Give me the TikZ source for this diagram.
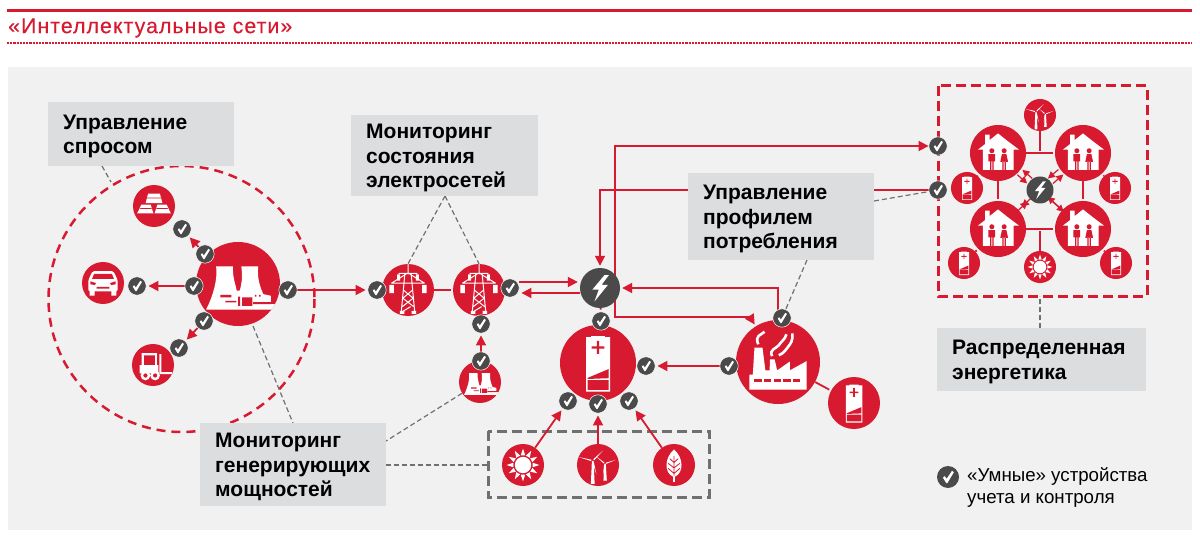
\documentclass[tikz,border=0pt]{standalone}
\usepackage{fontspec}
\setmainfont{Liberation Sans}
\newfontfamily\titlefont[LetterSpace=5,FakeBold=0.3]{Liberation Sans}
\usetikzlibrary{arrows.meta,calc}

\definecolor{hired}{HTML}{D71A30}
\definecolor{hidark}{HTML}{4A4A4A}
\definecolor{hipanel}{HTML}{F1F1F1}
\definecolor{hibox}{HTML}{DCDDDF}
\definecolor{hidash}{HTML}{707070}

\pgfdeclarelayer{under}
\pgfdeclarelayer{edges}
\pgfsetlayers{under,edges,main}

\newcommand{\icoTick}{\fill[white] (-4.6,0.6) -- (-3,-0.8) -- (-1.2,1.6) -- (3.6,-5.6) -- (5.4,-4.4) -- (-0.6,5.6) -- (-1.6,5.6) -- cycle;}
\newcommand{\icoBolt}{\fill[white] (2.2,-6.4) -- (-3.8,0.8) -- (-0.6,0.8) -- (-2.8,6.8) -- (4,-1.6) -- (0.8,-1.6) -- (4.4,-6.4) -- cycle;}
\newcommand{\icoPlant}{\fill[white] (-5.2,-4.2) -- (-1.2,-4.2) .. controls (-1.3,-1.5) and (-0.6,0) .. (-0.3,1.6) -- (0.4,1.6) .. controls (0.9,0) and (1.1,-1.5) .. (0.8,-4.2) -- (4.8,-4.2) .. controls (4.6,-1.5) and (5,0) .. (6,2.4) -- (7.8,2.8) -- (7.8,4.8) -- (9.2,4.8) -- (9.2,6.1) -- (-7.6,6.1) .. controls (-6,3) and (-4.8,-1) .. (-5.2,-4.2) -- cycle;
  \fill[hired] (-4.2,2.6) rectangle (-1.6,3.2) (-3,4) rectangle (-0.4,4.4) (0,3) rectangle (0.5,5.2) (1,3.2) rectangle (3.4,5.2) (4,2.6) rectangle (4.4,3) (5,2.6) rectangle (5.4,3) (3.6,4.3) rectangle (8,4.8);}
\newcommand{\icoPylon}{\draw[white,line width=1pt] (0,-10) -- (0,-6) (-3.6,-6.4) -- (3.6,-6.4) (-6.4,-2.6) -- (6.4,-2.6) (-6.4,-2.6) -- (-0.6,-6.2) (6.4,-2.6) -- (0.6,-6.2) (-1.2,-6.4) -- (-2.6,8.6) (1.2,-6.4) -- (2.6,8.6) (-1.8,0) -- (1.8,3) (1.8,0) -- (-1.8,3) (-2.2,3) -- (2.2,6.4) (2.2,3) -- (-2.2,6.4) (-2.6,8.6) -- (1,6.4);
  \fill[white] (-7.2,-2) rectangle (-5.4,1.2) (5.4,-2) rectangle (7.2,1.2) (-4.2,-6) rectangle (-3,-3.6) (3,-6) rectangle (4.2,-3.6) (-3.1,8) rectangle (-1.4,9.2) (1.4,8) rectangle (3.1,9.2);}
\newcommand{\icoGold}{\fill[white] (-2.8,-5.9) -- (2.8,-5.9) -- (4,-1.4) -- (-4,-1.4) -- cycle (-6,-0.7) -- (-1.6,-0.7) -- (-0.3,3.5) -- (-8,3.5) -- cycle (1.6,-0.7) -- (6,-0.7) -- (8,3.5) -- (0.3,3.5) -- cycle;
  \fill[hired] (-3.2,-4) -- (3.2,-4) -- (3.3,-3.6) -- (-3.3,-3.6) -- cycle (-6.4,1) -- (-1.2,1) -- (-1.1,1.4) -- (-6.6,1.4) -- cycle (1.2,1) -- (6.4,1) -- (6.6,1.4) -- (1.1,1.4) -- cycle;}
\newcommand{\icoCar}{\fill[white,rounded corners=1.5pt] (-7,-1.4) -- (-5,-5.6) -- (5,-5.6) -- (7,-1.4) -- (7,4) -- (-7,4) -- cycle;
  \fill[white] (-6.4,3) rectangle (-4,6) (4,3) rectangle (6.4,6);
  \fill[hired] (-4.2,-4.4) -- (4.2,-4.4) -- (5.2,-2) -- (-5.2,-2) -- cycle (-6,-0.8) -- (-3.4,0) -- (-3.8,1) -- (-6,0.6) -- cycle (6,-0.8) -- (3.4,0) -- (3.8,1) -- (6,0.6) -- cycle (-3,1.9) rectangle (3,2.7);}
\newcommand{\icoLift}{\fill[white] (-5.4,-5.6) rectangle (1.8,-4.6) (-5.4,-5.6) rectangle (-4.4,0) (1,-5.6) rectangle (1.8,3) (-6.4,0) rectangle (2.6,4) (3,-5.2) rectangle (4,4.4) (3,3.4) rectangle (9,4.4);
  \fill[hired] (-3.6,-3.8) -- (0.2,-3.8) -- (0.2,-0.2) -- (-2.4,-0.2) -- cycle;
  \fill[white] (-3.6,5) circle (2.3) (1,5) circle (2.3);
  \fill[hired] (-3.6,5) circle (1) (1,5) circle (1);}
\newcommand{\icoCell}{\fill[white] (-1.8,-7.1) rectangle (1.8,-6.4) (-3.1,-6.8) rectangle (3.2,7.5);
  \fill[hired] (-0.3,-5.8) rectangle (0.3,-2.4) (-1.7,-4.4) rectangle (1.7,-3.8) (-2.7,3.9) -- (2.8,1.6) -- (2.8,4) -- (-2.7,4.2) -- cycle (-2.7,4.5) rectangle (2.8,7.1);}
\newcommand{\icoSun}{\fill[white] (0,0) circle (3.9);
  \foreach \a in {0,30,...,330} {\fill[white] (\a-13:4.7) -- (\a:7.8) -- (\a+13:4.7) -- cycle;}}
\newcommand{\icoWind}{\fill[white] (-2.9,-2) -- (-2.1,-2) -- (-1.6,9) -- (-3.4,9) -- cycle (3,-0.6) -- (3.7,-0.6) -- (4.2,7.4) -- (2.6,7.4) -- cycle;
  \foreach \a in {75,195,315} {\fill[white] ($(-2.5,-2)+(\a+25:0.8)$) -- ($(-2.5,-2)+(\a:6.8)$) -- ($(-2.5,-2)+(\a-25:0.8)$) -- cycle;}
  \foreach \a in {100,220,340} {\fill[white] ($(3.3,-0.6)+(\a+25:0.7)$) -- ($(3.3,-0.6)+(\a:5.4)$) -- ($(3.3,-0.6)+(\a-25:0.7)$) -- cycle;}}
\newcommand{\icoLeaf}{\fill[white] (0,-7.4) .. controls (4.6,-3.4) and (4.8,3.6) .. (0.4,5.6) -- (0.4,8) -- (-0.4,8) -- (-0.4,5.6) .. controls (-4.8,3.6) and (-4.6,-3.4) .. (0,-7.4) -- cycle;
  \draw[hired,line width=.8pt] (0,-4.4) -- (0,5) (0,-1.2) -- (2,-3) (0,-1.2) -- (-2,-3) (0,1.4) -- (2.8,-0.8) (0,1.4) -- (-2.8,-0.8) (0,4) -- (2.8,1.6) (0,4) -- (-2.8,1.6);}
\newcommand{\icoHouse}{\fill[white] (0,-7) -- (3,-4.6) -- (7.5,-1.2) -- (5.6,-1.2) -- (5.6,6) -- (-5.4,6) -- (-5.4,-1.2) -- (-7.2,-1.2) -- (-4.6,-3.2) -- (-4.6,-6.6) -- (-3,-6.6) -- (-3,-4.6) -- cycle;
  \fill[hired] (-2.2,-0.8) circle (0.9) (2.2,-0.8) circle (0.9) (-3.4,0.4) rectangle (-1,3) (-2.8,3) rectangle (-2.4,6) (-2,3) rectangle (-1.6,6) (0.8,3.2) -- (1.4,0.4) -- (3,0.4) -- (3.6,3.2) -- cycle (1.6,3) rectangle (2,6) (2.4,3) rectangle (2.8,6);}
\newcommand{\icoFactory}{\fill[white] (-5.6,-3.4) -- (-3.7,-3.4) -- (-3,2) -- (-2,2) -- (-1.9,-0.6) -- (-0.8,-0.6) -- (-0.2,2) -- (2.8,-0.1) -- (2.8,2) -- (6.8,-0.2) -- (6.8,6.6) -- (-6.8,6.6) -- (-6.8,3) -- (-6,3) -- cycle;
  \draw[white,line width=2.6pt] (-4.7,-4.2) .. controls (-5.6,-6.4) and (-4,-6.4) .. (-3.2,-7.2) (-1.4,-1.4) .. controls (-2.2,-3) and (-0.4,-3.2) .. (0.2,-4) .. controls (0.8,-5) and (1.6,-5.2) .. (2,-6.6) (0.2,-1.6) .. controls (1.6,-2.2) and (1.8,-3) .. (2.4,-3.6) .. controls (3,-4.4) and (3.6,-5) .. (3.4,-6.8);
  \foreach \x in {-5.6,-3.3,-1,1.3,3.6} {\fill[hired] (\x,4.1) rectangle (\x+1.7,4.7);}}

\tikzset{
  ico/.style 2 args={circle,fill=hired,draw=none,inner sep=0pt,minimum size={#1*2pt},
    path picture={\begin{scope}[shift={(path picture bounding box.center)},x={#1*0.1pt},y={-#1*0.1pt}] #2 \end{scope}}},
  chk/.style={ico={9.2}{\icoTick},fill=hidark,draw=white,line width=.5pt},
  lab/.style={rectangle,fill=hibox,anchor=north west,align=left,inner xsep=15pt,inner ysep=0pt,
    font=\fontsize{21}{24.8}\selectfont\bfseries,text=black,execute at begin node={\rule{0pt}{19pt}}},
  flow/.style={draw=hired,line width=1.8pt,line join=miter,shorten >=2pt,shorten <=0pt},
  thin flow/.style={draw=hired,line width=1.2pt,shorten >=1pt,>={Triangle[length=7pt,width=7pt]}},
  lead/.style={draw=hidash,line width=1.2pt,dash pattern=on 5pt off 3pt},
  red circle/.style={draw=hired,line width=2.5pt,dash pattern=on 9pt off 6pt},
  red frame/.style={draw=hired,line width=3pt,dash pattern=on 10pt off 5pt},
  grey frame/.style={draw=hidash,line width=3pt,dash pattern=on 10pt off 5pt}
}

\begin{document}
\begin{tikzpicture}[x=1pt,y=-1pt,>={Triangle[length=10pt,width=10pt]}]
  \useasboundingbox (0,0) rectangle (1200,540);

  \node[font=\titlefont\fontsize{21.3}{24}\selectfont,text=hired,anchor=west,inner sep=0pt] (title) at (8,28) {«Интеллектуальные сети»};

  \node[ico={42}{\icoPlant}] (plant) at (238,284) {};
  \node[ico={21}{\icoGold}] (gold) at (154,206) {};
  \node[ico={21}{\icoCar}] (car) at (103,283) {};
  \node[ico={21}{\icoLift}] (lift) at (153,365) {};
  \node[chk] (chkPa) at (205,254) {};
  \node[chk] (chkPb) at (194,286) {};
  \node[chk] (chkPc) at (204,321) {};
  \node[chk] (chkPd) at (288,290) {};
  \node[chk] (chkGold) at (182,229) {};
  \node[chk] (chkCar) at (137,286) {};
  \node[chk] (chkLift) at (179,348) {};

  \node[ico={26}{\icoPylon}] (pylonA) at (408,290) {};
  \node[ico={26}{\icoPylon}] (pylonB) at (479,290) {};
  \node[chk] (chkA) at (377,290) {};
  \node[chk] (chkB) at (510,288) {};
  \node[chk] (chkC) at (481,324) {};
  \node[ico={21}{\icoPlant}] (plantS) at (480,382) {};
  \node[chk] (chkS) at (481,361) {};

  \node[ico={20}{\icoBolt},fill=hidark] (hub) at (600,288) {};
  \node[ico={38}{\icoCell}] (cell) at (598,363) {};
  \node[chk] (chkHub) at (601,321) {};
  \node[chk] (chkCr) at (646,366) {};
  \node[chk] (chkCa) at (568,401) {};
  \node[chk] (chkCb) at (598,404) {};
  \node[chk] (chkCc) at (629,401) {};
  \node[ico={21}{\icoSun}] (sun) at (523,465) {};
  \node[ico={21}{\icoWind}] (wind) at (598,465) {};
  \node[ico={21}{\icoLeaf}] (leaf) at (674,465) {};

  \node[ico={42}{\icoFactory}] (factory) at (778,362) {};
  \node[ico={26}{\icoCell}] (cellF) at (854,403) {};
  \node[chk] (chkFt) at (782,318) {};
  \node[chk] (chkFl) at (729,366) {};

  \node[chk] (chkGa) at (938,146) {};
  \node[chk] (chkGb) at (938,190) {};
  \node[ico={28}{\icoHouse}] (houseA) at (998,153) {};
  \node[ico={28}{\icoHouse}] (houseB) at (1083,153) {};
  \node[ico={28}{\icoHouse}] (houseC) at (998,229) {};
  \node[ico={28}{\icoHouse}] (houseD) at (1083,229) {};
  \node[ico={13.5}{\icoBolt},fill=hidark] (hubG) at (1040,190) {};
  \node[ico={16}{\icoWind}] (windG) at (1040,115) {};
  \node[ico={16}{\icoSun}] (sunG) at (1040,267) {};
  \node[ico={16}{\icoCell}] (cellA) at (967,188) {};
  \node[ico={16}{\icoCell}] (cellB) at (1115,188) {};
  \node[ico={16}{\icoCell}] (cellC) at (964,263) {};
  \node[ico={16}{\icoCell}] (cellD) at (1116,263) {};

  \node[lab,text width=156pt,minimum height=64pt] (labDemand) at (48,102) {Управление\\спросом};
  \node[lab,text width=157pt,minimum height=81pt] (labGrid) at (351,115) {Мониторинг\\состояния\\электросетей};
  \node[lab,text width=156pt,minimum height=87pt] (labProfile) at (688,173) {Управление\\профилем\\потребления};
  \node[lab,text width=179pt,minimum height=63pt] (labDistr) at (937,328) {Распределенная\\энергетика};
  \node[lab,text width=156pt,minimum height=83pt] (labGen) at (200,423) {Мониторинг\\генерирующих\\мощностей};

  \node[ico={11}{\icoTick},fill=hidark] (chkKey) at (948,477) {};
  \node[anchor=west,align=left,inner sep=0pt,font=\fontsize{18.7}{22}\selectfont] (keyText) at (967,487) {«Умные» устройства\\учета и контроля};

  \coordinate (turnA) at (615,146);
  \coordinate (turnB) at (615,317);
  \coordinate (turnC) at (750,317);
  \coordinate (turnD) at (600,190);
  \coordinate (turnE) at (778,288);
  \coordinate (turnF) at (778,312);
  \coordinate (apex) at (445,196);
  \coordinate (leadA) at (111,182);
  \coordinate (leadB) at (293,423);
  \coordinate (leadC) at (253,326);
  \coordinate (leadD) at (488,465);
  \coordinate (leadE) at (1040,296);
  \coordinate (leadF) at (874,201);
  \coordinate (leadG) at (102,166);
  \coordinate (leadH) at (386,441);
  \coordinate (leadI) at (807,260);

  \begin{pgfonlayer}{under}
    \fill[hipanel] (8,67) rectangle (1192,530);
    \fill[hired] (7,9) rectangle (1192,12);
    \draw[hired,line width=2pt,dash pattern=on 2.2pt off 1pt] (7,43) -- (1192,43);
  \end{pgfonlayer}

  \begin{pgfonlayer}{edges}
    \draw[red circle] (181.5,299) circle (133);
    \draw[red frame] (938,86) rectangle (1147,296);
    \draw[grey frame] (488,431) rectangle (709,497);

    \draw[lead] (leadG) -- (leadA);
    \draw[lead] (leadC) -- (leadB);
    \draw[lead] (plantS) -- (leadH);
    \draw[lead] (labGen.east |- leadD) -- (leadD);
    \draw[lead] (apex) -- (pylonA.north);
    \draw[lead] (apex) -- (pylonB.north);
    \draw[lead] (leadI) -- (chkFt);
    \draw[lead] (leadF) -- (chkGb);
    \draw[lead] (labDistr.north -| leadE) -- (leadE);

    \path[flow,->,draw] (chkPd) -- (chkA);
    \path[flow,->,draw] (chkPa) -- (chkGold);
    \path[flow,->,draw] (chkPb) -- (chkCar);
    \path[flow,->,draw] (chkPc) -- (chkLift);
    \path[flow,draw] (pylonA) -- (pylonB);
    \path[flow,draw] (pylonB) -- (chkB);
    \path[flow,draw] (pylonB) -- (chkC);
    \path[flow,->,draw] (chkS) -- (chkC);
    \path[flow,->,draw] ([yshift=6pt]chkB.east) -- ([yshift=6pt]hub.west);
    \path[flow,->,draw] ([yshift=-5pt]hub.west) -- ([yshift=-5pt]chkB.east);
    \path[flow,<->,draw] (chkGa) -- (turnA) -- (turnB) -- (turnC) -- (factory);
    \path[flow,->,draw] (chkGb) -- (turnD) -- (hub);
    \path[flow,->,draw] (turnF) -- (turnE) -- (hub);
    \path[flow,draw] (hub) -- (chkHub);
    \path[flow,draw] (chkHub) -- (cell);
    \path[flow,->,draw] (chkFl) -- (chkCr);
    \path[flow,draw] (factory) -- (cellF);
    \path[flow,->,draw] (sun) -- (chkCa);
    \path[flow,->,draw] (wind) -- (chkCb);
    \path[flow,->,draw] (leaf) -- (chkCc);

    \path[flow,draw] (houseA) -- (houseB);
    \path[flow,draw] (houseC) -- (houseD);
    \path[flow,draw] (houseA) -- (houseC);
    \path[flow,draw] (houseB) -- (houseD);
    \path[flow,draw] (windG) -- (windG |- houseA);
    \path[flow,draw] (sunG) -- (sunG |- houseC);
    \path[flow,draw] (cellA) -- (houseA);
    \path[flow,draw] (cellB) -- (houseB);
    \path[flow,draw] (cellC) -- (houseC);
    \path[flow,draw] (cellD) -- (houseD);
    \foreach \h/\dx/\dy in {houseA/2.5/2.5,houseB/2.5/-2.5,houseC/2.5/2.5,houseD/2.5/-2.5} {
      \path[thin flow,->,draw,transform canvas={shift={(\dx pt,\dy pt)}}] (hubG) -- (\h);
      \path[thin flow,<-,draw,transform canvas={shift={(-\dx pt,-\dy pt)}}] (hubG) -- (\h);
    }
  \end{pgfonlayer}
\end{tikzpicture}
\end{document}
